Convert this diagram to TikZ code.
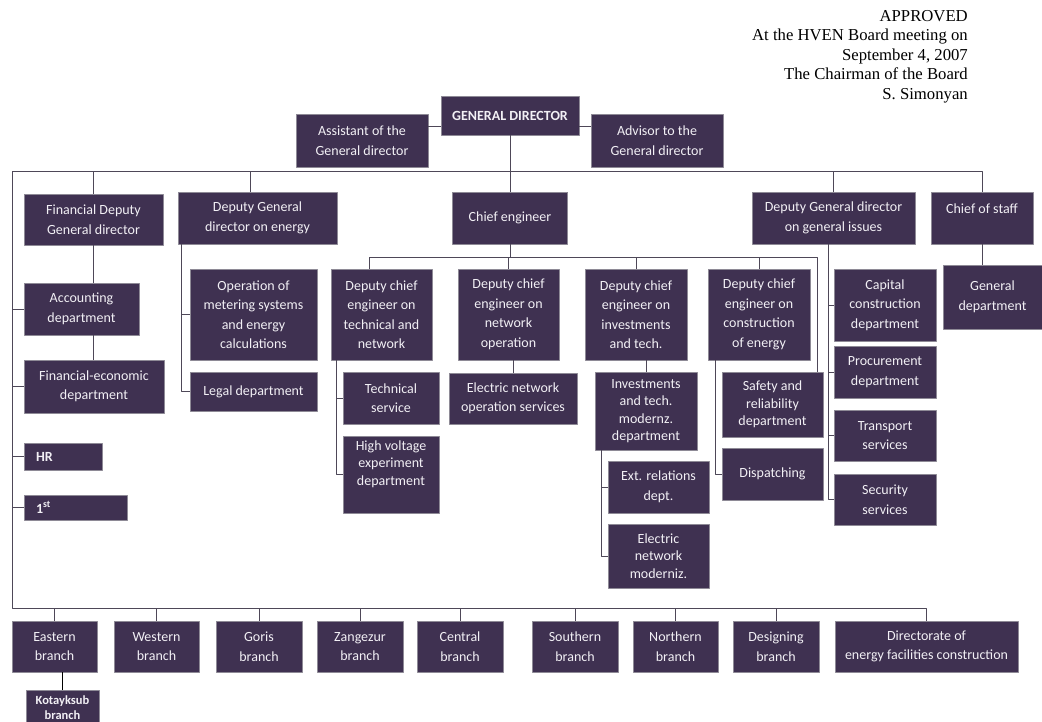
\documentclass[tikz,border=0pt]{standalone}
\usepackage{fontspec}
\setmainfont{Carlito}
\newfontfamily\apprfont{Liberation Serif}
\definecolor{boxfill}{HTML}{3F3151}
\definecolor{boxedge}{HTML}{8E8A96}
\definecolor{boxtext}{HTML}{F2F0F5}
\definecolor{connline}{HTML}{4E4858}
\begin{document}
\begin{tikzpicture}[x=1pt, y=-1pt, line join=round,
    box/.style={draw=boxedge, line width=0.8pt, fill=boxfill, text=boxtext, align=center, inner sep=0pt, font=\fontsize{14}{19.5}\selectfont},
    tight/.style={font=\fontsize{14}{17.5}\selectfont},
    sz/.style 2 args={minimum width=#1pt, minimum height=#2pt},
    conn/.style={draw=connline, line width=1pt}]
\fill[white] (0,0) rectangle (1042,722);
\useasboundingbox (0,0) rectangle (1042,722);

\node[anchor=north east, align=right, inner sep=0pt, font=\apprfont\fontsize{16.7}{19.5}\selectfont] (appr) at (968,10) {APPROVED\\At the HVEN Board meeting on\\September 4, 2007\\The Chairman of the Board\\S. Simonyan};

\node[box, sz={138}{39}] (gd) at (510,115.5) {\textbf{GENERAL DIRECTOR}};
\node[box, sz={132}{53}] (asst) at (362,140.5) {Assistant of the\\General director};
\node[box, sz={132}{53}] (adv) at (657,140.5) {Advisor to the\\General director};

\node[box, sz={139}{51}] (fin) at (93.5,219.5) {Financial Deputy\\General director};
\node[box, sz={159}{52}] (energy) at (257.5,218) {Deputy General\\director on energy};
\node[box, sz={115}{52}] (ce) at (510,218) {Chief engineer};
\node[box, sz={163}{52}] (dgi) at (833.5,218) {Deputy General director\\on general issues};
\node[box, sz={102}{52}] (cos) at (982,218) {Chief of staff\\\mbox{}};

\node[box, sz={115}{52}] (acc) at (81.5,309) {Accounting\\department};
\node[box, sz={140}{53}] (fecon) at (94,386.5) {Financial-economic\\department};
\node[box, sz={78}{27}, align=left, text width=54pt, inner xsep=12pt] (hr) at (63,456.5) {\textbf{HR}};
\node[box, sz={103}{25}, align=left, text width=79pt, inner xsep=12pt] (first) at (75.5,507.5) {\textbf{1\textsuperscript{st}}};

\node[box, sz={127}{91}] (oper) at (253.5,314.5) {Operation of\\metering systems\\and energy\\calculations};
\node[box, sz={127}{39}] (legal) at (253.5,391.5) {Legal department};

\node[box, sz={101}{91}] (dc1) at (381.5,314.5) {Deputy chief\\engineer on\\technical and\\network};
\node[box, sz={101}{91}] (dc2) at (508.5,314.5) {Deputy chief\\engineer on\\network\\operation};
\node[box, sz={102}{91}] (dc3) at (636,314.5) {Deputy chief\\engineer on\\investments\\and tech.};
\node[box, sz={102}{91}] (dc4) at (759,314.5) {Deputy chief\\engineer on\\construction\\of energy};

\node[box, sz={96}{52}] (tech) at (391,398) {Technical\\service};
\node[box, tight, sz={96}{77}] (hv) at (391,474.5) {High voltage\\experiment\\department\\[6pt]\mbox{}};
\node[box, sz={128}{51}] (enos) at (513,398.5) {Electric network\\operation services};
\node[box, tight, sz={102}{78}] (itm) at (646,411) {Investments\\and tech.\\modernz.\\department};
\node[box, sz={101}{52}] (ext) at (658.5,487) {Ext. relations\\dept.};
\node[box, tight, sz={101}{64}] (enm) at (658.5,556) {Electric\\network\\moderniz.};
\node[box, tight, sz={101}{65}] (safety) at (772.5,404.5) {Safety and\\reliability\\department};
\node[box, sz={101}{52}] (disp) at (772.5,474) {Dispatching};

\node[box, sz={102}{72}] (cap) at (885,305) {Capital\\construction\\department};
\node[box, sz={102}{52}] (proc) at (885,372) {Procurement\\department};
\node[box, sz={102}{51}] (trans) at (885,435.5) {Transport\\services};
\node[box, sz={102}{51}] (sec) at (885,499.5) {Security\\services};
\node[box, sz={99}{64}] (gen) at (992.5,297) {General\\department};

\node[box, sz={85}{51}] (east) at (54.5,646.5) {Eastern\\branch};
\node[box, sz={85}{51}] (west) at (156.5,646.5) {Western\\branch};
\node[box, sz={86}{51}] (goris) at (259,646.5) {Goris\\branch};
\node[box, sz={86}{51}] (zang) at (360,646.5) {Zangezur\\branch};
\node[box, sz={86}{51}] (central) at (460,646.5) {Central\\branch};
\node[box, sz={86}{51}] (south) at (575,646.5) {Southern\\branch};
\node[box, sz={85}{51}] (north) at (675.5,646.5) {Northern\\branch};
\node[box, sz={86}{51}] (design) at (776,646.5) {Designing\\branch};
\node[box, sz={183}{51}] (direct) at (926.5,646.5) {Directorate of\\energy facilities construction};
\node[box, sz={73}{35}, font=\fontsize{12.5}{15}\selectfont\bfseries] (kot) at (62.5,707.5) {Kotayksub\\branch};

\coordinate (tl) at (12,172);
\coordinate (bl) at (12,608);
\coordinate (gdl) at ([yshift=-11.5pt]gd.west);
\coordinate (gdr) at ([yshift=-11.5pt]gd.east);
\coordinate (ed) at ([xshift=-7.5pt]energy.north);
\coordinate (er) at ([xshift=4pt]energy.south west);
\coordinate (cb) at ([yshift=-13pt]ce.south);
\coordinate (d1) at ([xshift=-12.5pt]dc1.north);
\coordinate (sf) at ([xshift=-6pt]safety.north east);
\coordinate (r1) at ([xshift=6pt]dc1.south west);
\coordinate (r3) at ([xshift=7pt]itm.south west);
\coordinate (r4) at ([xshift=8pt]dc4.south west);
\coordinate (rg) at ([xshift=-5.5pt]dgi.south);

\draw[conn] (gdl) -- (gdl -| asst.east);
\draw[conn] (gdr) -- (gdr -| adv.west);
\draw[conn] (gd.south) -- (ce.north);
\draw[conn] (cos.north) -- (cos.north |- tl) -- (tl) -- (bl) -- (bl -| direct.north) -- (direct.north);
\draw[conn] (fin.north) -- (fin.north |- tl);
\draw[conn] (ed) -- (ed |- tl);
\draw[conn] (dgi.north) -- (dgi.north |- tl);

\draw[conn] (fin.south) -- (fin.south |- acc.north);
\draw[conn] (fin.south |- acc.south) -- (fin.south |- fecon.north);
\foreach \n in {acc,fecon,hr,first}
  \draw[conn] (\n.west) -- (\n.west -| tl);

\draw[conn] (er) |- (legal.west);
\draw[conn] (er |- oper.west) -- (oper.west);

\draw[conn] (ce.south) -- (cb);
\draw[conn] (d1) -- (d1 |- cb) -- (cb -| sf) -- (sf);
\foreach \n in {dc2,dc3,dc4}
  \draw[conn] (\n.north) -- (\n.north |- cb);

\draw[conn] (r1) |- (hv.west);
\draw[conn] (r1 |- tech.west) -- (tech.west);
\draw[conn] (enos.north) -- (enos.north |- dc2.south);
\draw[conn] (itm.north) -- (itm.north |- dc3.south);
\draw[conn] (r3) |- (enm.west);
\draw[conn] (r3 |- ext.west) -- (ext.west);
\draw[conn] (r4) |- (disp.west);

\draw[conn] (rg) |- (sec.west);
\foreach \n in {cap,proc,trans}
  \draw[conn] (rg |- \n.west) -- (\n.west);
\draw[conn] (cos.south) -- (cos.south |- gen.north);

\foreach \n in {east,west,goris,zang,central,south,north,design}
  \draw[conn] (\n.north) -- (\n.north |- bl);
\draw[black, line width=1.6pt] (kot.north) -- (kot.north |- east.south);
\end{tikzpicture}
\end{document}
